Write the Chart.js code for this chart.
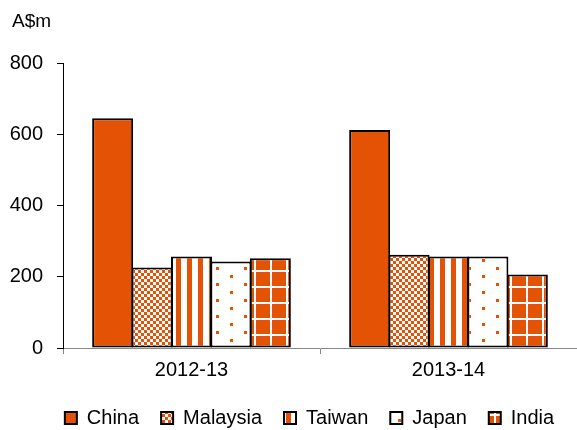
<!DOCTYPE html>
<html>
<head>
<meta charset="utf-8">
<script src="https://cdn.jsdelivr.net/npm/chart.js@4"></script>
<style>
  html, body { margin: 0; padding: 0; background: #fff; }
  #wrap { width: 577px; height: 430px; }
</style>
</head>
<body>
<div id="wrap"><canvas id="chart"></canvas></div>
<script>
// Data
const categories = ['2012-13', '2013-14'];
const seriesNames = ['China', 'Malaysia', 'Taiwan', 'Japan', 'India'];
const china = [645, 612];
const malaysia = [226, 262];
const taiwan = [257, 257];
const japan = [243, 257];
const india = [252, 206];
const yTicks = [0, 200, 400, 600, 800];

const ORANGE = '#E35205';
const FONT = '"Liberation Sans", Arial, sans-serif';

// Build fill patterns for the hatched series
function makePattern(w, h, draw) {
    const c = document.createElement('canvas');
    c.width = w;
    c.height = h;
    const ctx = c.getContext('2d');
    draw(ctx);
    return document.getElementById('chart').getContext('2d').createPattern(c, 'repeat');
}

const checkerFill = makePattern(6, 6, (ctx) => {
    ctx.fillStyle = '#fff';
    ctx.fillRect(0, 0, 6, 6);
    ctx.fillStyle = ORANGE;
    ctx.fillRect(0, 0, 3, 3);
    ctx.fillRect(3, 3, 3, 3);
});

const stripeFill = makePattern(11, 4, (ctx) => {
    ctx.fillStyle = '#fff';
    ctx.fillRect(0, 0, 11, 4);
    ctx.fillStyle = ORANGE;
    ctx.fillRect(0, 0, 5, 4);
});

const dotFill = makePattern(28, 16, (ctx) => {
    ctx.fillStyle = '#fff';
    ctx.fillRect(0, 0, 28, 16);
    ctx.fillStyle = ORANGE;
    ctx.fillRect(6, 3, 3, 3);
    ctx.fillRect(20, 11, 3, 3);
});

const gridFill = makePattern(16, 16, (ctx) => {
    ctx.fillStyle = ORANGE;
    ctx.fillRect(0, 0, 16, 16);
    ctx.fillStyle = '#fff';
    ctx.fillRect(14, 0, 2, 16);
    ctx.fillRect(0, 14, 16, 2);
});

const fills = [ORANGE, checkerFill, stripeFill, dotFill, gridFill];
const values = [china, malaysia, taiwan, japan, india];

// Unit label above the y axis
const unitLabel = {
    id: 'unitLabel',
    afterDraw(chart) {
        const ctx = chart.ctx;
        ctx.save();
        ctx.font = '19px ' + FONT;
        ctx.fillStyle = '#000';
        ctx.textBaseline = 'middle';
        ctx.fillText('A$m', 12, 22);
        ctx.restore();
    }
};

// Nudge the legend row to the right, as in the reference
const legendShift = {
    id: 'legendShift',
    afterLayout(chart) {
        const lg = chart.legend;
        if (lg) {
            lg.left += 16;
            lg.right += 16;
        }
    }
};

new Chart(document.getElementById('chart'), {
    type: 'bar',
    data: {
        labels: categories,
        datasets: seriesNames.map((name, i) => ({
            label: name,
            data: values[i],
            backgroundColor: fills[i],
            borderColor: '#000',
            borderWidth: 2,
            borderSkipped: false
        }))
    },
    options: {
        responsive: true,
        maintainAspectRatio: false,
        animation: false,
        layout: { padding: { top: 63, right: 0, left: 10, bottom: -8 } },
        datasets: {
            bar: { categoryPercentage: 0.767, barPercentage: 1.04 }
        },
        scales: {
            x: {
                grid: {
                    offset: true,
                    drawOnChartArea: false,
                    tickLength: 6,
                    color: '#888'
                },
                border: { color: '#888', width: 1 },
                ticks: {
                    color: '#000',
                    font: { family: FONT, size: 20 },
                    padding: 4
                }
            },
            y: {
                min: 0,
                max: 800,
                afterBuildTicks: (axis) => { axis.ticks = yTicks.map(v => ({ value: v })); },
                afterFit: (axis) => { axis.width = 53; },
                grid: {
                    drawOnChartArea: false,
                    tickLength: 6,
                    color: '#000'
                },
                border: { color: '#000', width: 1 },
                ticks: {
                    color: '#000',
                    font: { family: FONT, size: 20 },
                    padding: 14
                }
            }
        },
        plugins: {
            legend: {
                position: 'bottom',
                labels: {
                    color: '#000',
                    boxWidth: 12,
                    boxHeight: 12,
                    padding: 22,
                    font: { family: FONT, size: 20 }
                }
            },
            tooltip: { enabled: false }
        }
    },
    plugins: [unitLabel, legendShift]
});
</script>
</body>
</html>
